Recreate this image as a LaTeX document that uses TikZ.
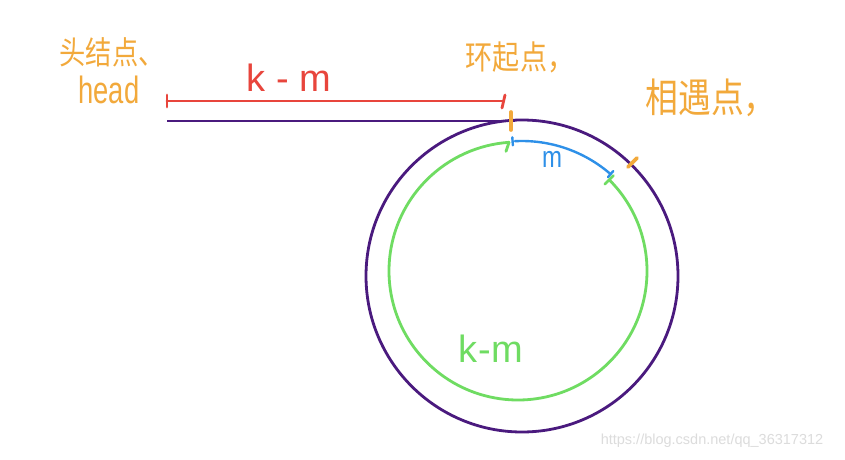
\documentclass[tikz,border=0pt]{standalone}
\usepackage{fontspec}
\usetikzlibrary{calc}
\setmainfont{Liberation Sans}
\newfontfamily\cjk[FakeStretch=0.82]{Noto Sans CJK SC}
\newfontfamily\handn[FakeStretch=0.72]{Liberation Sans}
\newfontfamily\handm[FakeStretch=0.8]{Liberation Sans}
\definecolor{cOrange}{HTML}{F2A93B}
\definecolor{cRed}{HTML}{E8453C}
\definecolor{cPurple}{HTML}{4A1A7E}
\definecolor{cGreen}{HTML}{6FDC62}
\definecolor{cBlue}{HTML}{2E90E8}
\definecolor{cMark}{HTML}{DCDCDC}
\tikzset{
  purpleline/.style={draw=cPurple,line width=2.8pt},
  redline/.style={draw=cRed,line width=2.8pt,line cap=round},
  greenline/.style={draw=cGreen,line width=2.8pt,line cap=round},
  blueline/.style={draw=cBlue,line width=2.4pt,line cap=round},
  orangetick/.style={draw=cOrange,line width=3.6pt,line cap=round},
  lbl/.style={inner sep=0pt,anchor=center},
  orangelbl/.style={lbl,text=cOrange},
}
\begin{document}
\begin{tikzpicture}[x=1pt,y=1pt]
\useasboundingbox[fill=white] (0,0) rectangle (845,459);
% key points
\coordinate (head) at (167,338);
\coordinate (start) at (515,338);
\coordinate (oc) at (522,183);
\coordinate (gc) at (518,188);
% list and loop
\draw[purpleline] (head) -- (start);
\draw[purpleline] (oc) circle[radius=156];
% red k-m span
\coordinate (ra) at (167,358);
\coordinate (rb) at (503,358);
\draw[redline] (ra) -- (rb);
\draw[redline] ($(ra)+(0,-6)$) -- ($(ra)+(0,6)$);
\draw[redline] ($(rb)+(2,6)$) -- ($(rb)+(-1,-7)$);
% green arc k-m
\draw[greenline] ($(gc)+(45:129)$) arc[start angle=45,end angle=-266,radius=129];
\draw[greenline] ($(gc)+(45:123)$) -- ($(gc)+(45:135)$);
\coordinate (gend) at ($(gc)+(94:129)$);
\draw[greenline] (gend) -- ++(-3,-9);
% blue arc m
\draw[blueline] ($(oc)+(93:135)$) arc[start angle=93,end angle=49,radius=135];
\draw[blueline] ($(oc)+(94:131)$) -- ($(oc)+(94:139)$);
\draw[blueline] ($(oc)+(49:131)$) -- ($(oc)+(49:139)$);
% orange marks
\draw[orangetick] (511,329) -- (511,347);
\draw[orangetick] (628,292) -- (637,301);
% labels
\node[orangelbl,font=\cjk\fontsize{32}{32}\selectfont] (l1) at (112,407) {头结点、};
\node[orangelbl,font=\handn\fontsize{38}{38}\selectfont] (l2) at (109,369) {head};
\node[lbl,text=cRed,font=\fontsize{38}{38}\selectfont] (l3) at (289,381) {k - m};
\node[orangelbl,font=\cjk\fontsize{33}{33}\selectfont] (l4) at (520,402) {环起点，};
\node[orangelbl,font=\cjk\fontsize{40}{40}\selectfont] (l5) at (711,361) {相遇点，};
\node[lbl,text=cBlue,font=\handm\fontsize{30}{30}\selectfont] (l6) at (552,300) {m};
\node[lbl,text=cGreen,font=\fontsize{38}{38}\selectfont] (l7) at (491,110) {k\kern1pt-\kern1pt m};
\node[lbl,text=cMark,font=\fontsize{14.5}{14.5}\selectfont] (wm) at (712,18) {https://blog.csdn.net/qq\_36317312};
\end{tikzpicture}
\end{document}
